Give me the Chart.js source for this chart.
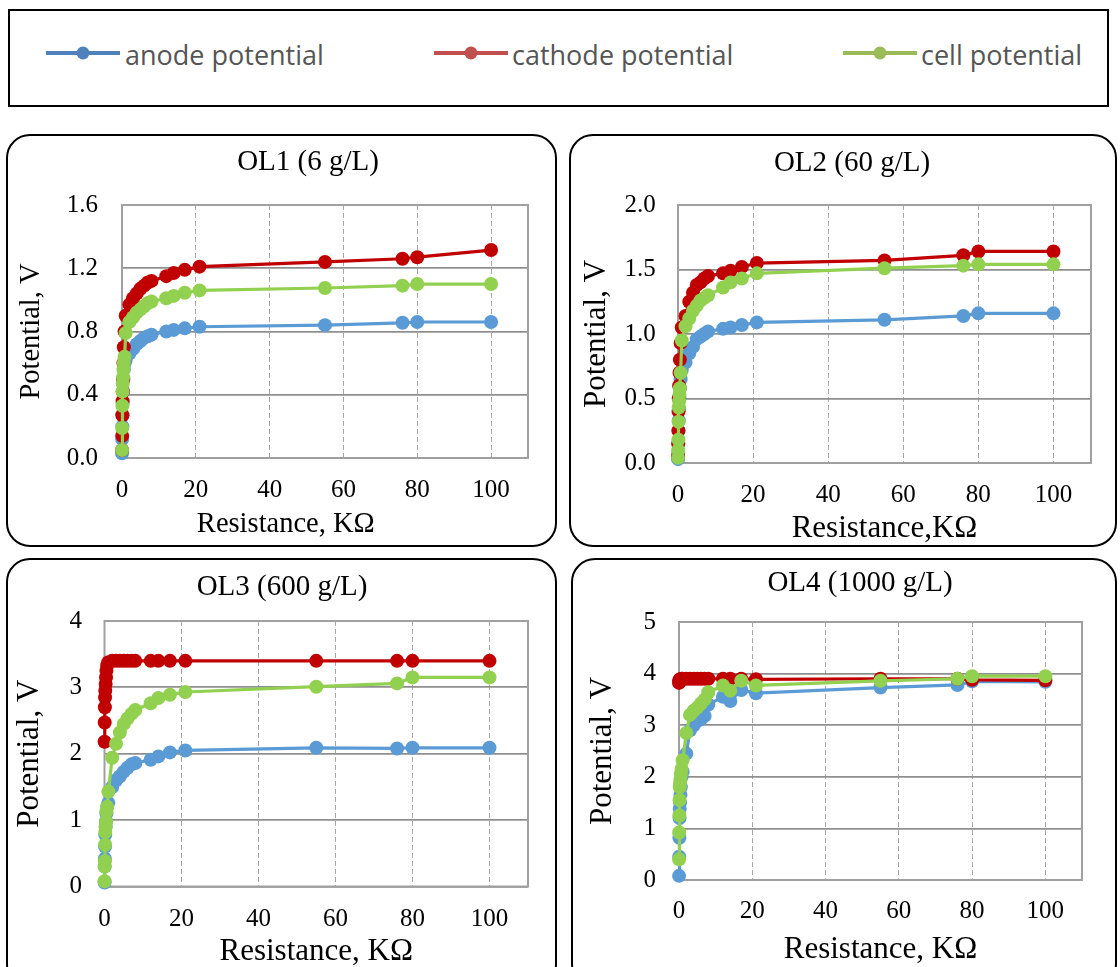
<!DOCTYPE html>
<html>
<head>
<meta charset="utf-8">
<script src="https://cdn.jsdelivr.net/npm/chart.js@4.4.1/dist/chart.umd.min.js"></script>
<style>
  html, body { margin:0; padding:0; background:#fff; }
  body { width:1120px; height:967px; overflow:hidden; position:relative; }
  .box { position:absolute; border:2px solid #000; border-radius:24px; box-sizing:border-box; }
  .legend { position:absolute; border:2px solid #000; box-sizing:border-box; }
  .lg-mark { position:absolute; }
  .lg-text { position:absolute; font-family:'Open Sans', sans-serif; font-size:27px; line-height:27px; color:#555; white-space:nowrap; }
  canvas { position:absolute; }
</style>
</head>
<body>
<script>
// ---------------- data ----------------
const resistance = [0.02, 0.05, 0.1, 0.15, 0.2, 0.3, 0.4, 0.5, 0.7, 1, 2, 3, 4, 5, 6, 7, 8, 12, 14, 17, 21, 55, 76, 80, 100];

const seriesNames = ['anode potential', 'cathode potential', 'cell potential'];
const panelTitles = ['OL1 (6 g/L)', 'OL2 (60 g/L)', 'OL3 (600 g/L)', 'OL4 (1000 g/L)'];
const yAxisTitle = 'Potential, V';
const xAxisTitles = ['Resistance, KΩ', 'Resistance,KΩ', 'Resistance, KΩ', 'Resistance, KΩ'];

const xTickValues = [0, 20, 40, 60, 80, 100];
const yTicksOL1 = [0, 0.4, 0.8, 1.2, 1.6];
const yTicksOL2 = [0, 0.5, 1.0, 1.5, 2.0];
const yTicksOL3 = [0, 1, 2, 3, 4];
const yTicksOL4 = [0, 1, 2, 3, 4, 5];
const yDecimals = [1, 1, 0, 0];

const anodeOL1   = [0.03, 0.12, 0.2, 0.27, 0.35, 0.42, 0.5, 0.56, 0.6, 0.62, 0.66, 0.69, 0.72, 0.74, 0.76, 0.77, 0.78, 0.80, 0.81, 0.82, 0.83, 0.84, 0.855, 0.86, 0.86];
const cathodeOL1 = [0.05, 0.14, 0.27, 0.36, 0.42, 0.5, 0.6, 0.7, 0.8, 0.9, 0.97, 1.01, 1.04, 1.07, 1.09, 1.11, 1.12, 1.15, 1.17, 1.19, 1.21, 1.24, 1.26, 1.27, 1.315];
const cellOL1    = [0.05, 0.19, 0.33, 0.42, 0.47, 0.51, 0.56, 0.6, 0.64, 0.79, 0.86, 0.89, 0.92, 0.94, 0.96, 0.98, 0.99, 1.01, 1.025, 1.045, 1.06, 1.075, 1.09, 1.1, 1.1];

const anodeOL2   = [0.03, 0.08, 0.15, 0.25, 0.33, 0.42, 0.5, 0.58, 0.65, 0.72, 0.78, 0.85, 0.9, 0.96, 0.98, 1.0, 1.02, 1.04, 1.05, 1.07, 1.09, 1.11, 1.14, 1.16, 1.16];
const cathodeOL2 = [0.05, 0.15, 0.25, 0.4, 0.5, 0.6, 0.7, 0.8, 0.93, 1.05, 1.14, 1.25, 1.32, 1.38, 1.40, 1.43, 1.45, 1.47, 1.49, 1.52, 1.55, 1.57, 1.61, 1.64, 1.64];
const cellOL2    = [0.04, 0.1, 0.18, 0.32, 0.43, 0.48, 0.53, 0.58, 0.70, 0.95, 1.06, 1.12, 1.18, 1.22, 1.26, 1.28, 1.30, 1.36, 1.40, 1.43, 1.47, 1.51, 1.53, 1.54, 1.54];

const anodeOL3   = [0.06, 0.3, 0.42, 0.6, 0.78, 0.9, 0.98, 1.1, 1.2, 1.26, 1.5, 1.6, 1.66, 1.73, 1.79, 1.84, 1.86, 1.91, 1.96, 2.02, 2.05, 2.09, 2.08, 2.09, 2.09];
const cathodeOL3 = [2.18, 2.47, 2.70, 2.85, 2.95, 3.05, 3.15, 3.25, 3.33, 3.38, 3.40, 3.40, 3.40, 3.40, 3.40, 3.40, 3.40, 3.40, 3.40, 3.40, 3.40, 3.40, 3.40, 3.40, 3.40];
const cellOL3    = [0.08, 0.3, 0.38, 0.63, 0.82, 0.9, 0.98, 1.13, 1.2, 1.43, 1.94, 2.15, 2.32, 2.45, 2.53, 2.6, 2.66, 2.76, 2.84, 2.89, 2.93, 3.01, 3.06, 3.15, 3.15];

const anodeOL4   = [0.08, 0.45, 0.82, 1.2, 1.38, 1.5, 1.65, 1.8, 2.0, 2.1, 2.45, 2.9, 3.0, 3.08, 3.12, 3.18, 3.4, 3.55, 3.47, 3.68, 3.62, 3.73, 3.78, 3.85, 3.84];
const cathodeOL4 = [3.82, 3.84, 3.86, 3.87, 3.88, 3.88, 3.89, 3.89, 3.9, 3.9, 3.9, 3.9, 3.9, 3.9, 3.9, 3.9, 3.9, 3.9, 3.9, 3.9, 3.89, 3.9, 3.9, 3.88, 3.87];
const cellOL4    = [0.4, 0.92, 1.25, 1.55, 1.8, 1.88, 1.95, 2.05, 2.15, 2.32, 2.85, 3.2, 3.28, 3.34, 3.42, 3.5, 3.64, 3.77, 3.67, 3.86, 3.77, 3.86, 3.9, 3.95, 3.95];

// ---------------- styles / layout ----------------
const SERIF = "'Liberation Serif', 'Times New Roman', serif";
const plotColors = ['#5B9BD5', '#C00000', '#92D050'];
const legendColors = ['#4F81BD', '#C0504D', '#9BBB59'];

const panels = [
  { anode: anodeOL1, cathode: cathodeOL1, cell: cellOL1, yTicks: yTicksOL1 },
  { anode: anodeOL2, cathode: cathodeOL2, cell: cellOL2, yTicks: yTicksOL2 },
  { anode: anodeOL3, cathode: cathodeOL3, cell: cellOL3, yTicks: yTicksOL3 },
  { anode: anodeOL4, cathode: cathodeOL4, cell: cellOL4, yTicks: yTicksOL4 }
];

// boxes and chart geometry (page pixels)
// yw: left axis width, rw: spacer width on the right (keeps the title centred as in the original)
const layouts = [
  { box:[6,134,551,413],  cl:8,   ct:136, cw:600, ch:406, yw:114,   rw:80, ytp:24,   xtp:17.7, xh:84,   tpt:8.6,  tpb:25.6, atf:28.5, ytitlePad:6.9,  xSpaces:11 },
  { box:[569,134,548,413],cl:571, ct:136, cw:562, ch:411, yw:107,   rw:42, ytp:22.3, xtp:17,   xh:84,   tpt:10.1, tpb:24.1, atf:31,   ytitlePad:7,    xSpaces:0 },
  { box:[6,558,551,430],  cl:8,   ct:560, cw:548, ch:410, yw:96.5,  rw:28, ytp:22.5, xtp:17.5, xh:83.5, tpt:9.6,  tpb:16.6, atf:31,   ytitlePad:3.4,  xSpaces:0 },
  { box:[571,558,546,430],cl:573, ct:560, cw:574, ch:408, yw:106,   rw:65, ytp:23,   xtp:16.7, xh:88,   tpt:6.1,  tpb:21.1, atf:31,   ytitlePad:11.4, xSpaces:0 }
];

// ---------------- legend (HTML) ----------------
const legendPos = [[46,125],[434,512],[843,921]];
(function buildLegend(){
  const lg = document.createElement('div');
  lg.className = 'legend';
  Object.assign(lg.style, { left:'8px', top:'9px', width:'1101px', height:'98px' });
  document.body.appendChild(lg);
  seriesNames.forEach((name, i) => {
    const c = legendColors[i];
    const svg = document.createElementNS('http://www.w3.org/2000/svg','svg');
    svg.setAttribute('width','74'); svg.setAttribute('height','16');
    svg.setAttribute('class','lg-mark');
    svg.style.left = legendPos[i][0] + 'px'; svg.style.top = '45px';
    svg.innerHTML = `<line x1="0" y1="8" x2="74" y2="8" stroke="${c}" stroke-width="4"/><circle cx="37" cy="8" r="6.5" fill="${c}"/>`;
    document.body.appendChild(svg);
    const t = document.createElement('div');
    t.className = 'lg-text';
    t.textContent = name;
    t.style.left = legendPos[i][1] + 'px'; t.style.top = '41px';
    document.body.appendChild(t);
  });
})();

// ---------------- charts ----------------
const framePlugin = {
  id: 'plotFrame',
  beforeDatasetsDraw(chart) {
    const { ctx, chartArea: a } = chart;
    ctx.save();
    ctx.strokeStyle = '#a0a0a0';
    ctx.lineWidth = 2;
    ctx.strokeRect(a.left, a.top, a.right - a.left, a.bottom - a.top);
    ctx.restore();
  }
};

function toXY(values) { return values.map((v, i) => ({ x: resistance[i], y: v })); }

panels.forEach((p, idx) => {
  const L = layouts[idx];
  const box = document.createElement('div');
  box.className = 'box';
  Object.assign(box.style, { left: L.box[0]+'px', top: L.box[1]+'px', width: L.box[2]+'px', height: L.box[3]+'px' });
  document.body.appendChild(box);

  const canvas = document.createElement('canvas');
  canvas.width = L.cw; canvas.height = L.ch;
  canvas.style.left = L.cl + 'px'; canvas.style.top = L.ct + 'px';
  canvas.style.width = L.cw + 'px'; canvas.style.height = L.ch + 'px';
  document.body.appendChild(canvas);

  const seriesData = [p.anode, p.cathode, p.cell];
  const datasets = seriesData.map((vals, i) => ({
    label: seriesNames[i],
    data: toXY(vals),
    borderColor: plotColors[i],
    backgroundColor: plotColors[i],
    pointBackgroundColor: plotColors[i],
    pointBorderColor: plotColors[i],
    order: 2 - i,
    clip: false,
    yAxisID: 'y'
  }));

  new Chart(canvas, {
    type: 'line',
    data: { datasets },
    plugins: [framePlugin],
    options: {
      responsive: false,
      animation: false,
      devicePixelRatio: 1,
      events: [],
      layout: { padding: 0 },
      elements: {
        line: { borderWidth: 3.2, tension: 0 },
        point: { radius: 7, borderWidth: 0, hoverRadius: 7, pointStyle: 'circle' }
      },
      plugins: {
        legend: { display: false },
        tooltip: { enabled: false },
        title: {
          display: true, text: panelTitles[idx], color: '#000',
          font: { family: SERIF, size: 29, weight: 'normal' },
          padding: { top: L.tpt, bottom: L.tpb }
        }
      },
      scales: {
        x: {
          type: 'linear', min: 0, max: 110,
          afterBuildTicks: (a) => { a.ticks = xTickValues.map(v => ({ value: v })); },
          afterFit: (a) => { a.height = L.xh; },
          ticks: { color: '#000', font: { family: SERIF, size: 25 }, padding: L.xtp, maxRotation: 0, autoSkip: false },
          grid: { color: '#a6a6a6', lineWidth: 1, drawTicks: false },
          border: { display: false, dash: [5, 3] },
          title: {
            display: true, text: xAxisTitles[idx] + ' '.repeat(L.xSpaces), color: '#000',
            font: { family: SERIF, size: L.atf }, padding: { top: 0, bottom: 0 }
          }
        },
        y: {
          type: 'linear', position: 'left', min: p.yTicks[0], max: p.yTicks[p.yTicks.length - 1],
          afterBuildTicks: (a) => { a.ticks = p.yTicks.map(v => ({ value: v })); },
          afterFit: (a) => { a.width = L.yw; },
          ticks: {
            color: '#000', font: { family: SERIF, size: 25 }, padding: L.ytp,
            callback: (v) => Number(v).toFixed(yDecimals[idx])
          },
          grid: { color: '#8f8f8f', lineWidth: 1.8, drawTicks: false },
          border: { display: false },
          title: {
            display: true, text: yAxisTitle, color: '#000',
            font: { family: SERIF, size: L.atf }, padding: { top: L.ytitlePad, bottom: 0 }
          }
        },
        spacer: {
          type: 'linear', position: 'right', display: true,
          afterFit: (a) => { a.width = L.rw; },
          ticks: { display: false },
          grid: { display: false, drawTicks: false },
          border: { display: false },
          title: { display: false }
        }
      }
    }
  });
});
</script>
</body>
</html>
